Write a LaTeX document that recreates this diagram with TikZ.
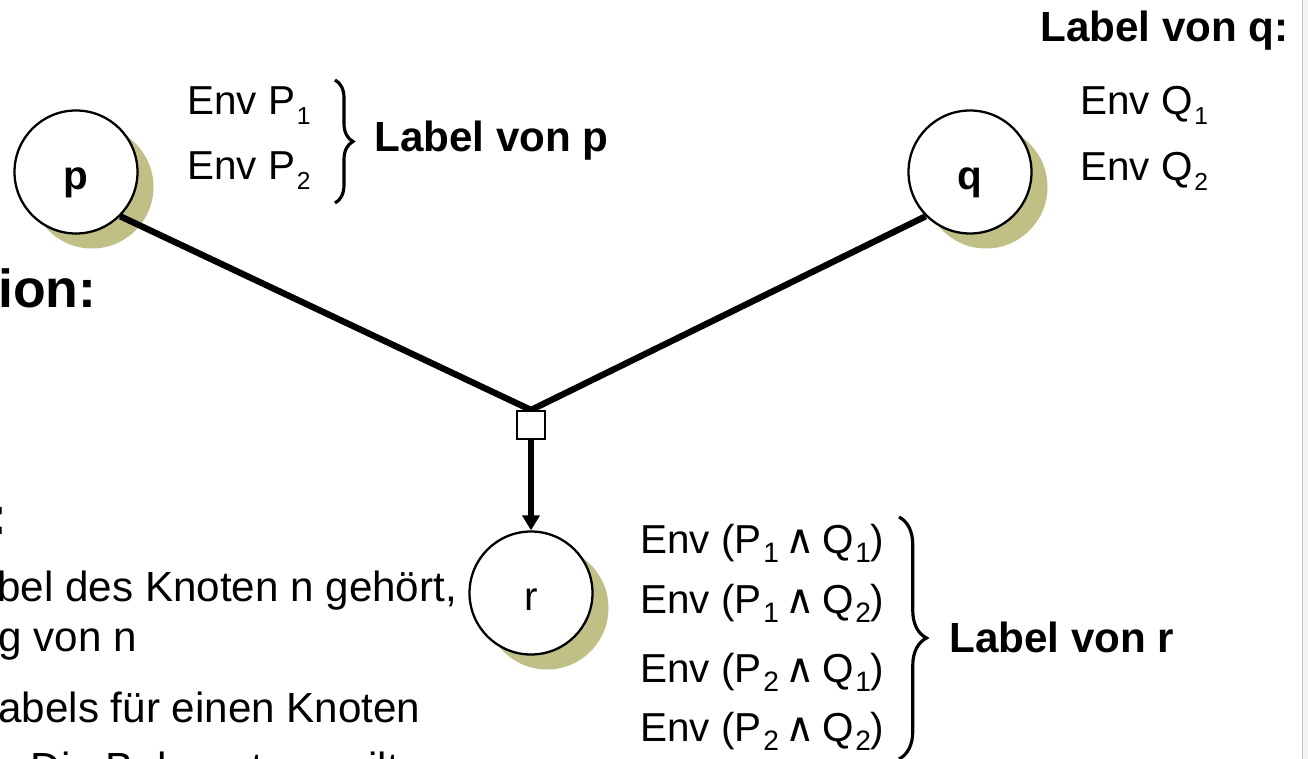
\documentclass[tikz,border=0pt]{standalone}
\usepackage{fontspec}
\setmainfont{Liberation Sans}
\newfontfamily\wedgefont{DejaVu Sans}
\usetikzlibrary{arrows.meta,shadows,decorations.pathreplacing}
\definecolor{knotshadow}{RGB}{191,191,134}
\newcommand{\sx}[2][14]{\hspace{1pt}\raisebox{-5.5pt}{\fontsize{#1}{#1}\selectfont #2}}
\newcommand{\und}{\,{\wedgefont ∧}\,}

\begin{document}
\begin{tikzpicture}[x=0.2mm,y=-0.2mm,
    knot/.style={circle,draw,line width=1.3pt,fill=white,minimum size=2.46cm,inner sep=0pt,
        text height=20pt,text depth=0pt,
        drop shadow={shadow xshift=0.32cm,shadow yshift=-0.3cm,fill=knotshadow,opacity=1},
        font=\fontsize{23}{27}\selectfont},
    env/.style={anchor=base west,inner sep=0pt,font=\fontsize{23}{27}\selectfont},
    body/.style={anchor=base west,inner sep=0pt,font=\fontsize{24}{28}\selectfont},
    lbl/.style={anchor=base west,inner sep=0pt,font=\fontsize{24}{28}\selectfont\bfseries},
    frag/.style={anchor=base west,inner sep=0pt,font=\fontsize{30.5}{36}\selectfont\bfseries},
    link/.style={line width=3.6pt},
    brc/.style={decorate,decoration={brace,amplitude=#1},line width=1.8pt}]
            \useasboundingbox (0,0) rectangle (1308,759);
            % window edge
            \fill[gray!8] (1302,0) rectangle (1308,759);
            \draw[gray!45,line width=1pt] (1302.5,0)--(1302.5,759);
            % knots
            \node[knot,font=\fontsize{23}{27}\selectfont\bfseries] (p) at (76,172) {p};
            \node[knot,font=\fontsize{23}{27}\selectfont\bfseries] (q) at (970,172) {q};
            \node[knot] (r) at (531,593) {r};
            \coordinate (join) at (531,410);
            \draw[link] (p.south east)--(join)--(q.south west);
            \node[draw,fill=white,line width=0.9pt,minimum size=0.56cm,inner sep=0pt,anchor=north] (box) at (join) {};
            \draw[link,-{Triangle[length=0.3cm,width=0.34cm]}] (box)--(r);
            % labels of p and q
            \node[env] (p1) at (187,115) {Env P\sx{1}};
            \node[env] (p2) at (187,180) {Env P\sx{2}};
            \node[env] (q1) at (1080,115) {Env Q\sx{1}};
            \node[env] (q2) at (1080,181) {Env Q\sx{2}};
            \node[lbl] (lp) at (374,152) {Label von p};
            \node[lbl] (lq) at (1040,42) {Label von q:};
            % label of r
            \foreach \a/\b/\y in {1/1/553,1/2/613,2/1/682,2/2/741}{
                \node[env] (r\a\b) at (640,\y) {Env (P\sx[16]{\a}\und Q\sx[16]{\b})};
            }
            \node[lbl] (lr) at (949,652) {Label von r};
            \coordinate (ptop) at (335,80);
            \coordinate (pbot) at (335,203);
            \coordinate (rtop) at (899,517);
            \coordinate (rbot) at (899,759);
            \draw[brc=0.36cm] (ptop)--(pbot);
            \draw[brc=0.55cm] (rtop)--(rbot);
            % cut text on the left
            \node[frag] (ion) at (-2,307) {ion:};
            \node[frag] (colon) at (-11,534) {:};
            \node[body] (t1) at (-3,601) {bel des Knoten n gehört,};
            \node[body] (t2) at (-2,651) {g von n};
            \node[body] (t3) at (-2,722) {abels für einen Knoten};
            \node[body] (t4) at (3,782) {: Die Behauptung gilt};
        \end{tikzpicture}
\end{document}
